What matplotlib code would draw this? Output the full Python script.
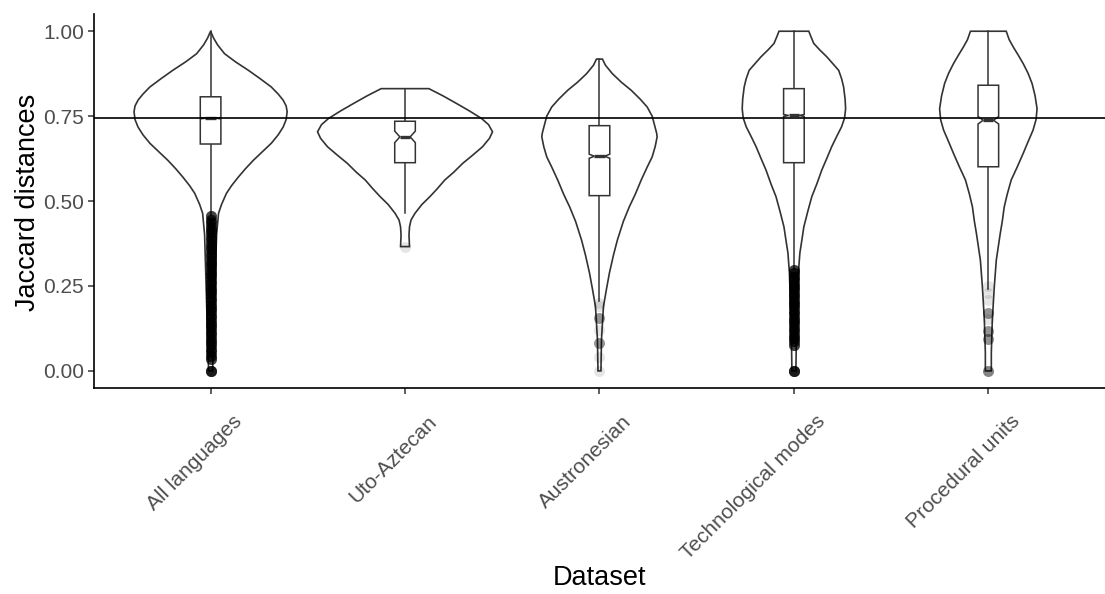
import numpy as np
import matplotlib.pyplot as plt
from matplotlib.patches import Polygon
from matplotlib.transforms import ScaledTranslation

plt.rcParams['font.family'] = ['Liberation Sans', 'DejaVu Sans']

# datasets
datasets = ["All languages", "Uto-Aztecan", "Austronesian", "Technological modes", "Procedural units"]
ref_line = 0.746

# violin outlines: y values and relative density (largest density -> half width 0.45)
viol_all_y = [1.00, 0.98, 0.96, 0.934, 0.91, 0.885, 0.86, 0.836, 0.815, 0.797, 0.78, 0.763, 0.74, 0.718,
              0.695, 0.67, 0.645, 0.62, 0.595, 0.571, 0.545, 0.523, 0.49, 0.464, 0.40, 0.30, 0.20, 0.10, 0.00]
viol_all_d = [0, 3, 7, 14, 25, 38, 50, 61, 68, 73, 76, 77, 76, 73,
              68, 61, 52, 43, 35, 28, 21, 16, 11, 8, 6, 5, 4, 3, 2]

viol_uto_y = [0.831, 0.81, 0.787, 0.765, 0.743, 0.725, 0.704, 0.685, 0.66, 0.635, 0.611, 0.585, 0.562,
              0.535, 0.513, 0.49, 0.464, 0.444, 0.424, 0.40, 0.366]
viol_uto_d = [24, 38, 52, 65, 77, 84, 88, 85, 78, 68, 58, 49, 40,
              32, 25, 17, 10, 6, 4.5, 4, 4.5]

viol_aus_y = [0.918, 0.90, 0.875, 0.85, 0.826, 0.80, 0.777, 0.75, 0.728, 0.70, 0.689, 0.66, 0.63, 0.60,
              0.562, 0.52, 0.483, 0.44, 0.385, 0.34, 0.288, 0.24, 0.189, 0.14, 0.091, 0.00]
viol_aus_d = [3, 6, 13, 22, 32, 41, 48, 53, 55, 57.5, 58, 56, 53, 48,
              42, 36, 30, 24, 18, 14, 10, 7, 4, 3, 2, 1.5]

viol_tech_y = [1.00, 0.985, 0.964, 0.945, 0.925, 0.905, 0.885, 0.86, 0.836, 0.80, 0.772, 0.745, 0.719,
               0.69, 0.66, 0.625, 0.591, 0.55, 0.513, 0.47, 0.424, 0.385, 0.347, 0.288, 0.20, 0.10, 0.00]
viol_tech_d = [15, 17, 20, 26, 33, 39, 45, 48, 50, 51.5, 52, 51, 48,
               43, 38, 33, 28, 23, 18, 14, 10, 8, 6, 4.5, 3.5, 2.5, 2]

viol_proc_y = [1.00, 0.975, 0.954, 0.93, 0.905, 0.876, 0.846, 0.81, 0.772, 0.74, 0.709, 0.675, 0.64,
               0.60, 0.562, 0.52, 0.483, 0.44, 0.405, 0.326, 0.248, 0.15, 0.053, 0.00]
viol_proc_d = [18, 21, 25, 30, 35, 40, 44, 47, 49, 48, 45, 40, 35,
               29, 23, 19, 16, 14, 12, 8, 6, 4, 3, 3]

violins_y = [viol_all_y, viol_uto_y, viol_aus_y, viol_tech_y, viol_proc_y]
violins_d = [viol_all_d, viol_uto_d, viol_aus_d, viol_tech_d, viol_proc_d]

# box statistics
q1 = [0.668, 0.613, 0.516, 0.613, 0.601]
med = [0.744, 0.689, 0.632, 0.752, 0.738]
q3 = [0.807, 0.735, 0.722, 0.831, 0.841]
whisk_lo = [0.458, 0.464, 0.207, 0.300, 0.240]
whisk_hi = [1.000, 0.831, 0.918, 1.000, 1.000]
notch_lo = [0.742, 0.672, 0.626, 0.749, 0.727]
notch_hi = [0.746, 0.706, 0.638, 0.755, 0.749]

# outliers: values and how many observations sit on each
out_all_v = [0.455, 0.445, 0.435, 0.425, 0.415, 0.405, 0.395, 0.385, 0.375, 0.365, 0.355, 0.345,
             0.335, 0.325, 0.315, 0.305, 0.295, 0.285, 0.275, 0.265, 0.255, 0.245, 0.235, 0.225,
             0.215, 0.205, 0.195, 0.185, 0.175, 0.165, 0.155, 0.145, 0.135, 0.125, 0.115, 0.105,
             0.095, 0.085, 0.075, 0.065, 0.055, 0.045, 0.035, 0.0]
out_all_n = [12] * 43 + [20]
out_uto_v = [0.365]
out_uto_n = [1]
out_aus_v = [0.200, 0.190, 0.155, 0.120, 0.081, 0.042, 0.0]
out_aus_n = [1, 1, 5, 1, 5, 1, 1]
out_tech_v = [0.297, 0.287, 0.277, 0.267, 0.257, 0.247, 0.237, 0.227, 0.217, 0.207, 0.197, 0.187,
              0.177, 0.167, 0.157, 0.147, 0.137, 0.127, 0.117, 0.107, 0.097, 0.087, 0.077, 0.0]
out_tech_n = [12] * 23 + [20]
out_proc_v = [0.250, 0.228, 0.209, 0.170, 0.153, 0.116, 0.095, 0.0]
out_proc_n = [1, 1, 1, 5, 1, 5, 5, 6]

outliers_v = [out_all_v, out_uto_v, out_aus_v, out_tech_v, out_proc_v]
outliers_n = [out_all_n, out_uto_n, out_aus_n, out_tech_n, out_proc_n]

line_col = "#333333"
dens_max = max(max(d) for d in violins_d)
half_max = 0.45
box_half = 0.053

fig = plt.figure(figsize=(11.05, 5.94), dpi=100)
ax = fig.add_axes([0.085, 0.347, 0.915, 0.629])

for i in range(len(datasets)):
    x0 = i + 1
    yv = np.array(violins_y[i])
    hw = np.array(violins_d[i]) / dens_max * half_max
    pts = np.column_stack([np.concatenate([x0 - hw, (x0 + hw)[::-1]]),
                           np.concatenate([yv, yv[::-1]])])
    ax.add_patch(Polygon(pts, closed=True, facecolor="white", edgecolor=line_col, lw=1.2, zorder=2))

    # whiskers
    ax.plot([x0, x0], [q3[i], whisk_hi[i]], color=line_col, lw=1.1, zorder=3)
    ax.plot([x0, x0], [whisk_lo[i], q1[i]], color=line_col, lw=1.1, zorder=3)

    # notched box
    b = box_half
    nb = box_half * 0.5
    bx = [x0 - b, x0 - b, x0 - nb, x0 - b, x0 - b, x0 + b, x0 + b, x0 + nb, x0 + b, x0 + b]
    by = [q1[i], notch_lo[i], med[i], notch_hi[i], q3[i], q3[i], notch_hi[i], med[i], notch_lo[i], q1[i]]
    ax.add_patch(Polygon(np.column_stack([bx, by]), closed=True, facecolor="white",
                         edgecolor=line_col, lw=1.1, zorder=4))
    ax.plot([x0 - nb, x0 + nb], [med[i], med[i]], color=line_col, lw=2.4, zorder=5,
            solid_capstyle="butt")

    # outliers
    ov = np.repeat(outliers_v[i], outliers_n[i])
    ax.scatter(np.full(len(ov), x0), ov, s=62, color="black", alpha=0.1, lw=0, zorder=6)

ax.axhline(ref_line, color="black", lw=1.2, zorder=7)

ax.set_xlim(0.4, 5.6)
ax.set_ylim(-0.05, 1.05)
ax.set_yticks([0, 0.25, 0.5, 0.75, 1.0])
ax.set_yticklabels(["0.00", "0.25", "0.50", "0.75", "1.00"])
ax.set_xticks(range(1, len(datasets) + 1))
ax.set_xticklabels([])

# rotated category labels, placed by hand below the ticks
shift = ScaledTranslation(22 / 100, -24 / 100, fig.dpi_scale_trans)
for i, name in enumerate(datasets):
    ax.text(i + 1, 0, name, transform=ax.get_xaxis_transform() + shift, rotation=45,
            rotation_mode="anchor", ha="right", va="top", fontsize=15, color="#4D4D4D")

ax.tick_params(axis="both", colors="#333333", labelcolor="#4D4D4D", labelsize=15,
               length=4.5, width=1.1, pad=2.5)
for side in ["top", "right"]:
    ax.spines[side].set_visible(False)
for side in ["left", "bottom"]:
    ax.spines[side].set_linewidth(1.2)
    ax.spines[side].set_color("black")

fig.text(0.5425, 1 - 578 / 594, "Dataset", fontsize=19.5, ha="center", va="center")
fig.text(28 / 1105, 1 - 202 / 594, "Jaccard distances", fontsize=19.5, rotation=90,
         ha="center", va="center")

fig.savefig("out.png", dpi=100)
